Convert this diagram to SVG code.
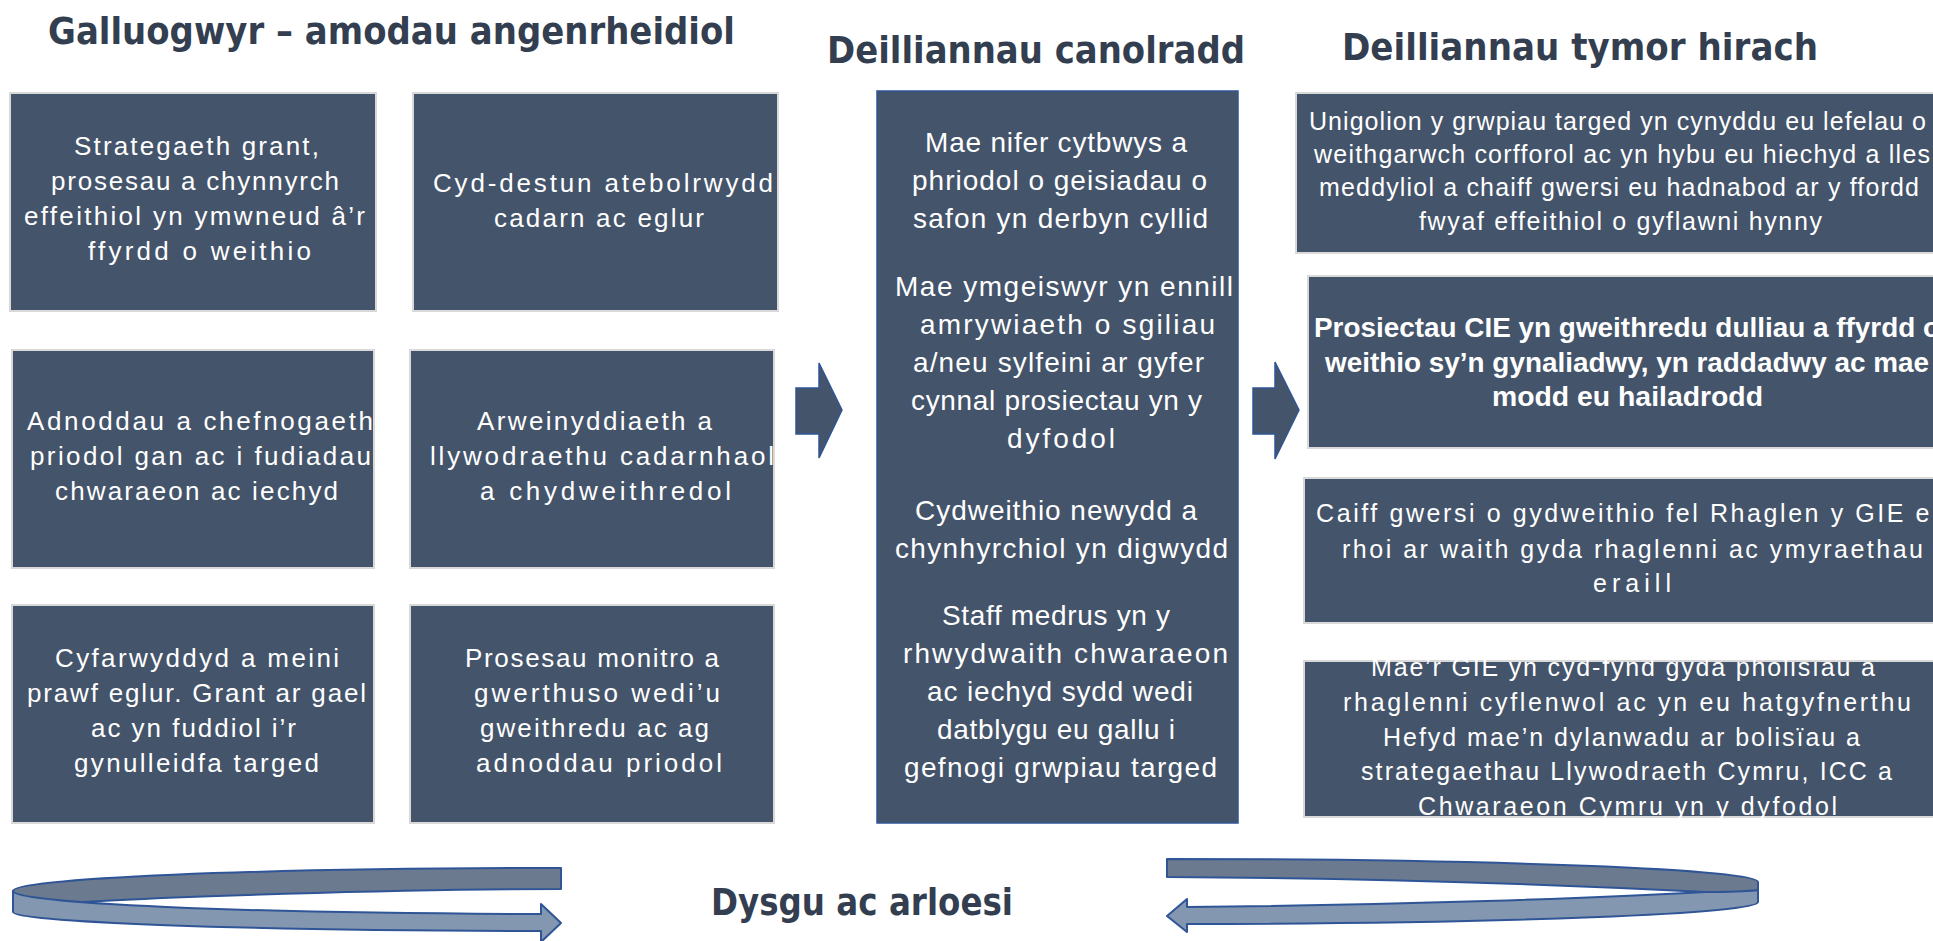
<svg xmlns="http://www.w3.org/2000/svg" width="1933" height="941" viewBox="0 0 1933 941">
<style>
.box{fill:#44546a;stroke:#d9d9d9;stroke-width:2}
.mbox{fill:#44546a;stroke:#2f5597;stroke-width:1.5}
.t{font-family:"Liberation Sans",Arial,sans-serif;font-size:25px;fill:#ffffff}
.tl{font-size:26px}
.tm{font-size:28px}
.tb{font-weight:bold;font-size:28px}
.h{font-family:"DejaVu Sans","Liberation Sans",sans-serif;font-weight:bold;font-size:38px;fill:#333f50}
.blk{fill:#44546a;stroke:#2f5597;stroke-width:1.5}
.dk{fill:#6b7a8f;stroke:#2f5597;stroke-width:2;stroke-linejoin:round}
.lt{fill:#8497b0;stroke:#2f5597;stroke-width:2;stroke-linejoin:round}
</style>
<rect width="1933" height="941" fill="#ffffff"/>

<g id="titles">
<text class="h" x="48" y="44" textLength="687" lengthAdjust="spacingAndGlyphs">Galluogwyr – amodau angenrheidiol</text>
<text class="h" x="827" y="63" textLength="418" lengthAdjust="spacingAndGlyphs">Deilliannau canolradd</text>
<text class="h" x="1342" y="60" textLength="476" lengthAdjust="spacingAndGlyphs">Deilliannau tymor hirach</text>
</g>

<g id="nodeA">
<rect class="box" x="10" y="93" width="366" height="218"/>
<text class="t tl" x="74" y="155" textLength="245">Strategaeth grant,</text>
<text class="t tl" x="51" y="190" textLength="288">prosesau a chynnyrch</text>
<text class="t tl" x="24" y="225" textLength="341">effeithiol yn ymwneud â’r</text>
<text class="t tl" x="88" y="260" textLength="223">ffyrdd o weithio</text>
</g>
<g id="nodeB">
<rect class="box" x="413" y="93" width="365" height="218"/>
<text class="t tl" x="433" y="192" textLength="340">Cyd-destun atebolrwydd</text>
<text class="t tl" x="494" y="227" textLength="210">cadarn ac eglur</text>
</g>
<g id="nodeC">
<rect class="box" x="12" y="350" width="362" height="218"/>
<text class="t tl" x="27" y="430" textLength="346">Adnoddau a chefnogaeth</text>
<text class="t tl" x="30" y="465" textLength="341">priodol gan ac i fudiadau</text>
<text class="t tl" x="55" y="500" textLength="283">chwaraeon ac iechyd</text>
</g>
<g id="nodeD">
<rect class="box" x="410" y="350" width="364" height="218"/>
<text class="t tl" x="477" y="430" textLength="235">Arweinyddiaeth a</text>
<text class="t tl" x="430" y="465" textLength="344">llywodraethu cadarnhaol</text>
<text class="t tl" x="480" y="500" textLength="251">a chydweithredol</text>
</g>
<g id="nodeE">
<rect class="box" x="12" y="605" width="362" height="218"/>
<text class="t tl" x="55" y="667" textLength="284">Cyfarwyddyd a meini</text>
<text class="t tl" x="27" y="702" textLength="339">prawf eglur. Grant ar gael</text>
<text class="t tl" x="91" y="737" textLength="205">ac yn fuddiol i’r</text>
<text class="t tl" x="74" y="772" textLength="245">gynulleidfa targed</text>
</g>
<g id="nodeF">
<rect class="box" x="410" y="605" width="364" height="218"/>
<text class="t tl" x="465" y="667" textLength="254">Prosesau monitro a</text>
<text class="t tl" x="474" y="702" textLength="246">gwerthuso wedi’u</text>
<text class="t tl" x="480" y="737" textLength="229">gweithredu ac ag</text>
<text class="t tl" x="476" y="772" textLength="246">adnoddau priodol</text>
</g>

<g id="nodeMid">
<rect class="mbox" x="877" y="91" width="361" height="732"/>
<text class="t tm" x="925" y="152" textLength="262">Mae nifer cytbwys a</text>
<text class="t tm" x="912" y="190" textLength="295">phriodol o geisiadau o</text>
<text class="t tm" x="913" y="228" textLength="295">safon yn derbyn cyllid</text>
<text class="t tm" x="895" y="296" textLength="338">Mae ymgeiswyr yn ennill</text>
<text class="t tm" x="920" y="334" textLength="295">amrywiaeth o sgiliau</text>
<text class="t tm" x="913" y="372" textLength="291">a/neu sylfeini ar gyfer</text>
<text class="t tm" x="911" y="410" textLength="291">cynnal prosiectau yn y</text>
<text class="t tm" x="1007" y="448" textLength="108">dyfodol</text>
<text class="t tm" x="915" y="520" textLength="282">Cydweithio newydd a</text>
<text class="t tm" x="895" y="558" textLength="333">chynhyrchiol yn digwydd</text>
<text class="t tm" x="942" y="625" textLength="228">Staff medrus yn y</text>
<text class="t tm" x="903" y="663" textLength="325">rhwydwaith chwaraeon</text>
<text class="t tm" x="927" y="701" textLength="266">ac iechyd sydd wedi</text>
<text class="t tm" x="937" y="739" textLength="238">datblygu eu gallu i</text>
<text class="t tm" x="904" y="777" textLength="313">gefnogi grwpiau targed</text>
</g>

<g id="nodeR1">
<rect class="box" x="1296" y="93" width="660" height="160"/>
<text class="t" x="1309" y="130" textLength="617">Unigolion y grwpiau targed yn cynyddu eu lefelau o</text>
<text class="t" x="1314" y="163" textLength="616">weithgarwch corfforol ac yn hybu eu hiechyd a lles</text>
<text class="t" x="1319" y="196" textLength="600">meddyliol a chaiff gwersi eu hadnabod ar y ffordd</text>
<text class="t" x="1419" y="230" textLength="403">fwyaf effeithiol o gyflawni hynny</text>
</g>
<g id="nodeR2">
<rect class="box" x="1308" y="276" width="650" height="172"/>
<text class="t tb" x="1314" y="337" textLength="626" lengthAdjust="spacingAndGlyphs">Prosiectau CIE yn gweithredu dulliau a ffyrdd o</text>
<text class="t tb" x="1325" y="372" textLength="604" lengthAdjust="spacingAndGlyphs">weithio sy’n gynaliadwy, yn raddadwy ac mae</text>
<text class="t tb" x="1492" y="406" textLength="271" lengthAdjust="spacingAndGlyphs">modd eu hailadrodd</text>
</g>
<g id="nodeR3">
<rect class="box" x="1304" y="478" width="650" height="145"/>
<text class="t" x="1316" y="522" textLength="630">Caiff gwersi o gydweithio fel Rhaglen y GIE eu</text>
<text class="t" x="1342" y="558" textLength="581">rhoi ar waith gyda rhaglenni ac ymyraethau</text>
<text class="t" x="1593" y="592" textLength="78">eraill</text>
</g>
<g id="nodeR4">
<rect class="box" x="1304" y="661" width="650" height="156"/>
<text class="t" x="1371" y="676" textLength="504">Mae’r GIE yn cyd-fynd gyda pholisïau a</text>
<text class="t" x="1343" y="711" textLength="568">rhaglenni cyflenwol ac yn eu hatgyfnerthu</text>
<text class="t" x="1383" y="746" textLength="477">Hefyd mae’n dylanwadu ar bolisïau a</text>
<text class="t" x="1361" y="780" textLength="531">strategaethau Llywodraeth Cymru, ICC a</text>
<text class="t" x="1418" y="815" textLength="419">Chwaraeon Cymru yn y dyfodol</text>
</g>

<g id="connectors">
<polygon class="blk" points="796,388 819,388 819,363 842,410 819,458 819,434 796,434"/>
<polygon class="blk" points="1253,388 1275,388 1275,362 1299,410 1275,459 1275,434 1253,434"/>
<g id="cycleLeft">
<path class="dk" d="M561,868 L561,889 C400,889 150,897 67,903 L13,895 L13,891 A548,23 0 0 1 561,868 Z"/>
<path class="lt" d="M13,891 A548,23 0 0 0 541,914 L541,904 L561,923 L541,942 L541,931 A548,19 0 0 1 13,912 Z"/>
</g>
<g id="cycleRight">
<path class="lt" d="M1187,907 C1400,905 1600,898 1706,892 L1758,890 L1758,902 A591,22 0 0 1 1187,924 L1187,932 L1167,916 L1187,899 Z"/>
<path class="dk" d="M1167,859 A591,23 0 0 1 1758,882 L1758,890 C1740,892 1720,892 1706,892 C1550,884 1350,878 1167,877 Z"/>
</g>
</g>

<g id="label">
<text class="h" x="711" y="915" textLength="302" lengthAdjust="spacingAndGlyphs">Dysgu ac arloesi</text>
</g>
</svg>
